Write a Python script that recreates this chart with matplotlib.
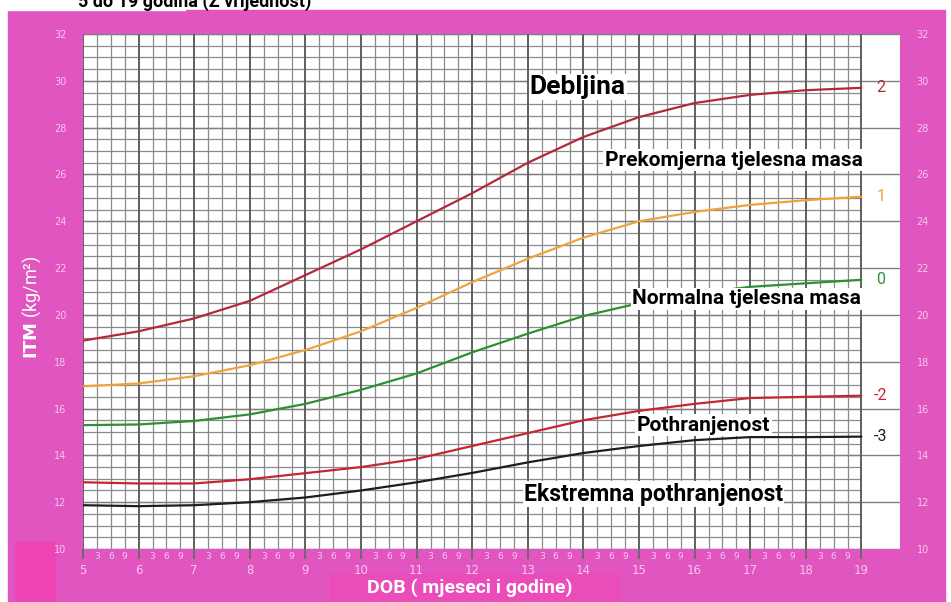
import matplotlib.pyplot as plt
from matplotlib.patches import Rectangle

# BMI-for-age z-score curves, 5 to 19 years
age = [5, 6, 7, 8, 9, 10, 11, 12, 13, 14, 15, 16, 17, 18, 19]
z_plus2 = [18.9, 19.3, 19.85, 20.6, 21.7, 22.8, 24.0, 25.2, 26.5, 27.6, 28.45, 29.05, 29.4, 29.6, 29.7]
z_plus1 = [16.95, 17.07, 17.38, 17.85, 18.5, 19.3, 20.3, 21.4, 22.4, 23.3, 24.0, 24.4, 24.7, 24.9, 25.05]
z_zero = [15.29, 15.32, 15.47, 15.75, 16.2, 16.8, 17.5, 18.4, 19.2, 19.95, 20.5, 20.9, 21.2, 21.35, 21.5]
z_minus2 = [12.85, 12.8, 12.8, 12.98, 13.24, 13.5, 13.85, 14.4, 14.95, 15.5, 15.9, 16.2, 16.45, 16.5, 16.55]
z_minus3 = [11.87, 11.83, 11.87, 12.0, 12.2, 12.5, 12.85, 13.25, 13.7, 14.1, 14.4, 14.65, 14.78, 14.78, 14.8]

curves = [(z_plus2, '2', '#b3283a'), (z_plus1, '1', '#f0a33c'), (z_zero, '0', '#2f8f34'),
          (z_minus2, '-2', '#c4272d'), (z_minus3, '-3', '#1e1e1e')]

# zone label, x of right edge (years), y (kg/m2), font size
zones = [("Prekomjerna tjelesna masa", 19.02, 26.6, 15), ("Normalna tjelesna masa", 18.99, 20.68, 15),
         ("Pothranjenost", 17.36, 15.29, 15), ("Ekstremna pothranjenost", 17.59, 12.34, 16.5)]

y_ticks = list(range(10, 33, 2))
year_ticks = list(range(5, 20))
month_labels = ['3', '6', '9']

pink = '#e055c0'
tick_col = '#f7c8ec'

fig = plt.figure(figsize=(9.51, 6.02), dpi=100, facecolor='white')
fig.patches.append(Rectangle((8 / 951, 0), 937 / 951, 592 / 602, transform=fig.transFigure,
                             color=pink, zorder=0))
fig.patches.append(Rectangle((0, 592 / 602), 185 / 951, 10 / 602, transform=fig.transFigure,
                             color='white', zorder=0))
fig.patches.append(Rectangle((15 / 951, 0), 40 / 951, 60 / 602, transform=fig.transFigure,
                             color='#ee44b4', zorder=0))
fig.patches.append(Rectangle((330 / 951, 2 / 602), 290 / 951, 26 / 602, transform=fig.transFigure,
                             color='#ea4cba', zorder=0))
fig.text(78 / 951, 595 / 602, "5 do 19 godina (Z vrijednost)", fontsize=13, fontweight='bold',
         family='Roboto', color='black', va='baseline', ha='left')

ax = fig.add_axes([83 / 951, 53 / 602, 817 / 951, 515 / 602])
ax.set_zorder(2)
ax.set_facecolor('white')
x_end = 5 + 817 / 55.6
ax.set_xlim(5, x_end)
ax.set_ylim(10, 32)

# grid: minor lines every 3 months / 0.5 kg/m2, heavier at whole years
minor_y = [10 + 0.5 * i for i in range(45)]
ax.hlines(minor_y, 5, 19, color='#8a8a8a', lw=0.9, zorder=1)
ax.hlines(y_ticks, 5, x_end, color='#808080', lw=1.0, zorder=1)
minor_x = [y + m / 12 for y in year_ticks[:-1] for m in (3, 6, 9)]
ax.vlines(minor_x, 10, 32, color='#8a8a8a', lw=0.9, zorder=1)
ax.vlines(year_ticks, 10, 32, color='#5f5f5f', lw=1.4, zorder=1)

for vals, lab, col in curves:
    ax.plot(age, vals, color=col, lw=1.6, zorder=3, solid_capstyle='round')
    ax.text(19.35, vals[-1], lab, color=col, fontsize=11.5, family='Roboto', ha='center', va='center')

ax.text(13.9, 29.73, "Debljina", fontsize=19, fontweight='bold', family='Roboto', ha='center',
        va='center', zorder=4, bbox=dict(facecolor='white', edgecolor='none', pad=1))
for txt, xr, yv, fs in zones:
    ax.text(xr, yv, txt, fontsize=fs, fontweight='bold', family='Roboto', ha='right',
            va='center', zorder=4, bbox=dict(facecolor='white', edgecolor='none', pad=1))

for s in ax.spines.values():
    s.set_visible(False)

ax.set_yticks(y_ticks)
ax.tick_params(axis='y', which='both', length=0, labelsize=7, labelcolor=tick_col,
               left=True, right=True, labelleft=True, labelright=True, pad=12)
ax.set_xticks(year_ticks)
ax.set_xticklabels([str(y) for y in year_ticks])
ax.set_xticks(minor_x, minor=True)
ax.set_xticklabels(month_labels * (len(year_ticks) - 1), minor=True)
ax.tick_params(axis='x', which='major', length=7, width=1.4, color='#6a6a6a',
               labelsize=8.5, labelcolor=tick_col, pad=4)
ax.tick_params(axis='x', which='minor', length=0, labelsize=6.5, labelcolor=tick_col, pad=2)

fig.text(32 / 951, 295 / 602, r"$\mathbf{ITM}$ (kg/m²)", rotation=90, color='white',
         fontsize=13, family='Roboto', ha='center', va='center')
fig.text(470 / 951, 14 / 602, "DOB ( mjeseci i godine)", color='white', fontsize=14,
         fontweight='bold', family='Roboto', ha='center', va='center')

fig.savefig('out.png', dpi=100, facecolor=fig.get_facecolor())
